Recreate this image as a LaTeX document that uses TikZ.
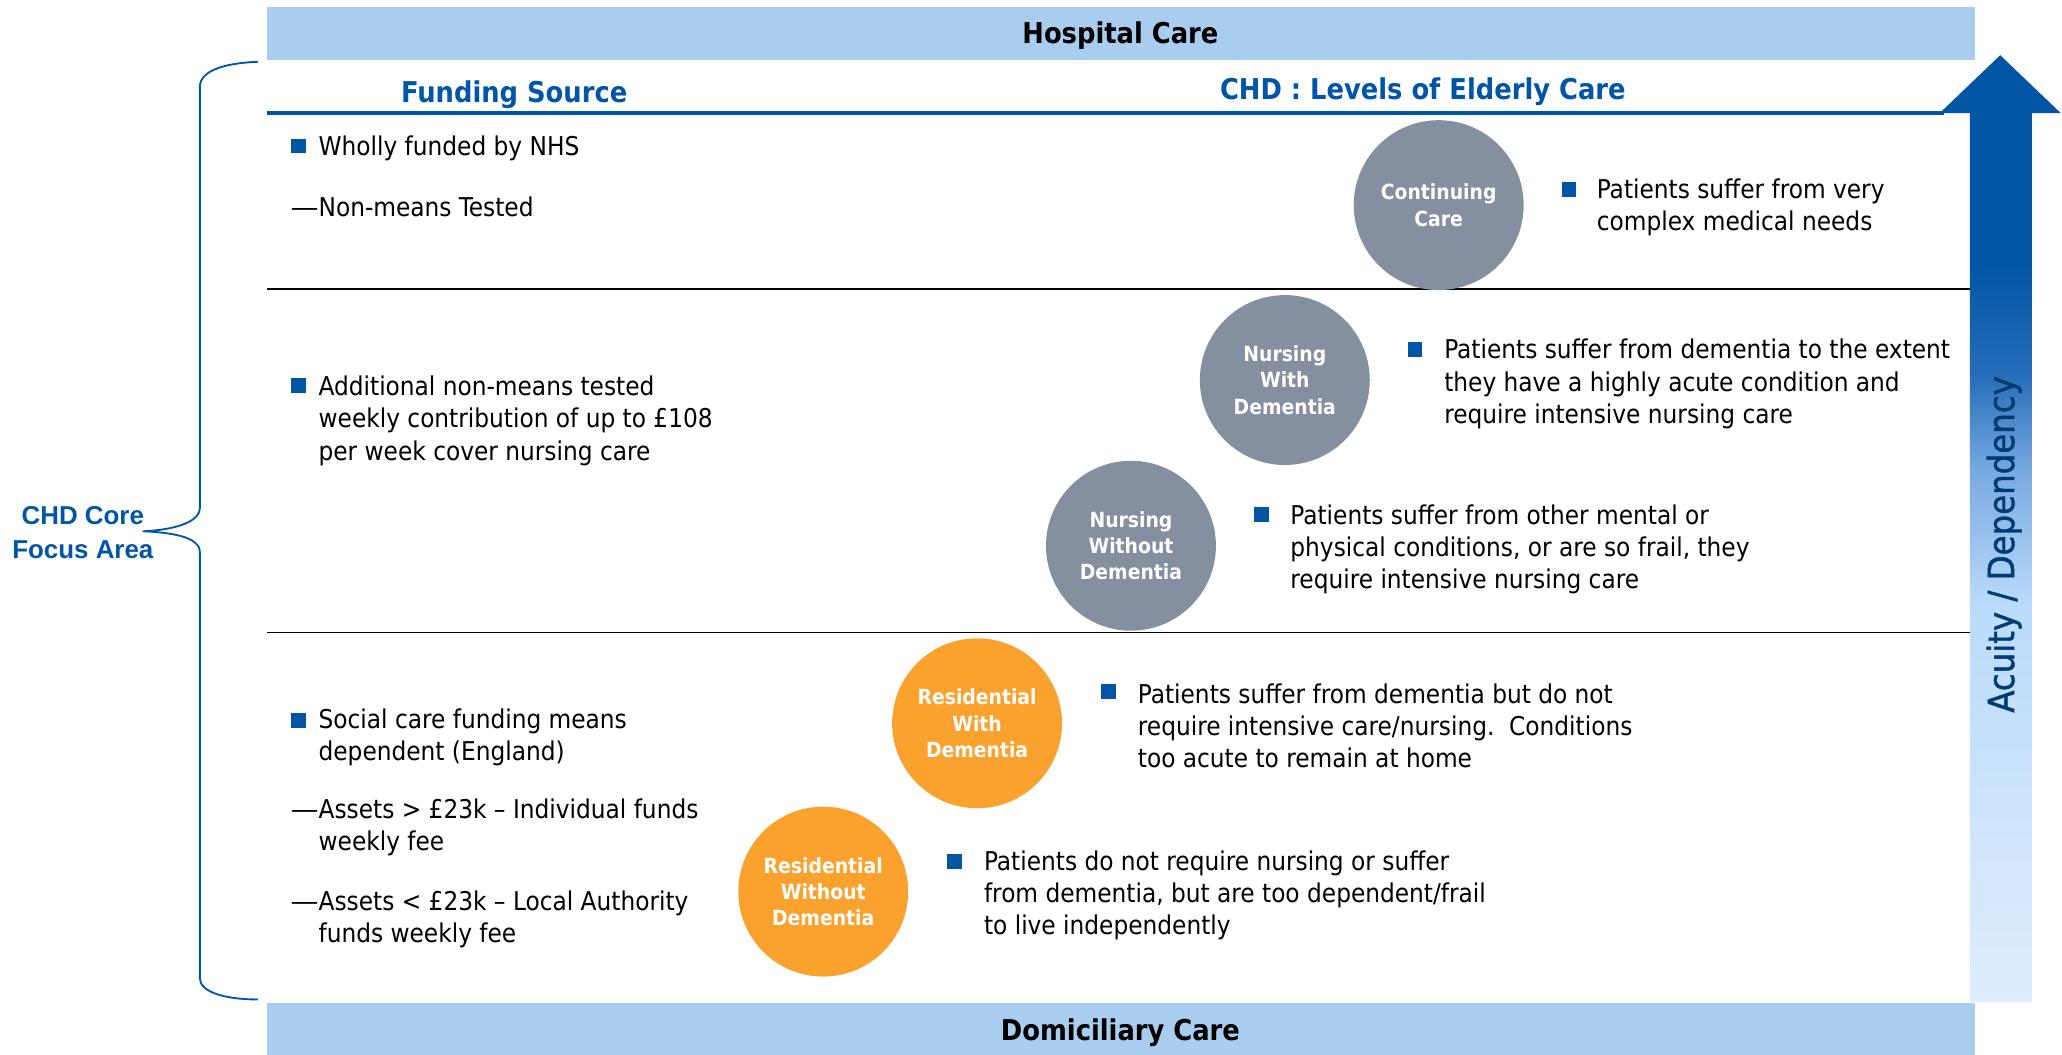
\documentclass[tikz,border=0pt]{standalone}
\usepackage{fontspec}
\setmainfont{DejaVu Sans Condensed}
\newfontfamily\arialfont{Liberation Sans}
\newfontfamily\acufont{DejaVu Sans Condensed}[FakeBold=1.2]

\definecolor{barblue}{RGB}{169,205,238}
\definecolor{chdblue}{RGB}{0,85,165}
\definecolor{careg}{RGB}{132,143,160}
\definecolor{careo}{RGB}{251,161,45}
\definecolor{arrlight}{RGB}{222,237,252}
\definecolor{arrmid}{RGB}{186,219,250}
\definecolor{arrsoft}{RGB}{120,170,225}
\definecolor{arrdeep}{RGB}{40,110,185}

% acuity arrow: dark at the head, fading out towards the bottom
\pgfdeclareverticalshading{acuity}{100bp}{color(0bp)=(arrlight); color(25bp)=(arrlight); color(46bp)=(arrmid); color(53bp)=(arrsoft); color(58bp)=(arrdeep); color(64bp)=(chdblue); color(100bp)=(chdblue)}

% long dash in front of a sub item
\newcommand{\subdash}{\llap{\scalebox{1.2}[1]{—}}}

\begin{document}
\begin{tikzpicture}[x=0.25mm,y=-0.25mm,line join=round,
	txt/.style={anchor=west,inner sep=0pt,align=left,font=\fontsize{14}{17.4}\selectfont},
	blt/.style={fill=chdblue,inner sep=0pt,minimum size=2.8mm},
	level/.style={circle,fill=#1,minimum size=32.3mm,inner sep=0pt,align=center,text=white,font=\fontsize{11.3}{14.2}\selectfont\bfseries},
	head/.style={inner sep=0pt,text=chdblue,font=\fontsize{15.5}{18}\selectfont\bfseries},
	bar/.style={inner sep=0pt,font=\fontsize{15.5}{18}\selectfont\bfseries}]
	\useasboundingbox (0,0) rectangle (1568,802);
	
	% top and bottom bands
	\fill[barblue] (203,5) rectangle (1502,46);
	\fill[barblue] (203,763) rectangle (1502,802);
	\node[bar] (hosp) at (852,27) {Hospital Care};
	\node[bar] (dom) at (852,785) {Domiciliary Care};
	
	% arrow on the right
	\shade[shading=acuity] (1498,762) -- (1498,86) -- (1475,86) -- (1521,42) -- (1567,86) -- (1545,86) -- (1545,762) -- cycle;
	\node[rotate=90,inner sep=0pt,text=chdblue!70!black,font=\acufont\fontsize{19.5}{19.5}\selectfont] (acu) at (1524,414) {Acuity / Dependency};
	
	% column heads and row rules
	\node[head] (fund) at (391,72) {Funding Source};
	\node[head] (lev) at (1082,70) {CHD : Levels of Elderly Care};
	\draw[chdblue,line width=0.8mm] (203,86) -- (1478,86);
	\draw[line width=0.35mm] (203,220) -- (1498,220);
	\draw[line width=0.35mm] (203,481) -- (1498,481);
	
	% brace for the core area
	\coordinate (tip) at (109,404);
	\draw[chdblue,line width=0.35mm] (196,47) .. controls (170,48) and (152,54) .. (152,66) -- (152,386)
	.. controls (152,398) and (130,403) .. (tip) .. controls (130,405) and (152,408) .. (152,420)
	-- (152,744) .. controls (152,754) and (170,760) .. (196,760);
	\node[inner sep=0pt,align=center,text=chdblue,font=\arialfont\fontsize{14}{18}\selectfont\bfseries] (core) at (63,405) {CHD Core\\Focus Area};
	
	% care levels
	\foreach \n/\x/\y/\c/\t in {cc/1094/156/careg/{Continuing\\Care},nwd/977/289/careg/{Nursing\\With\\Dementia},nod/860/415/careg/{Nursing\\Without\\Dementia},rwd/743/550/careo/{Residential\\With\\Dementia},rod/626/678/careo/{Residential\\Without\\Dementia}}
	\node[level=\c] (\n) at (\x,\y) {\t};
	
	% funding source
	\node[blt] (b1) at (227,111) {};
	\node[txt] (f1) at (242,113) {Wholly funded by NHS};
	\node[txt] (f2) at (242,157) {\subdash Non-means Tested};
	\node[blt] (b2) at (227,293) {};
	\node[txt] (f3) at (242,320) {Additional non-means tested\\weekly contribution of up to £108\\per week cover nursing care};
	\node[blt] (b3) at (227,548) {};
	\node[txt] (f4) at (242,561) {Social care funding means\\dependent (England)};
	\node[txt] (f5) at (242,629) {\subdash Assets > £23k – Individual funds\\weekly fee};
	\node[txt] (f6) at (242,699) {\subdash Assets < £23k – Local Authority\\funds weekly fee};
	
	% level descriptions
	\node[blt] (b4) at (1193,144) {};
	\node[txt] (d1) at (1214,158) {Patients suffer from very\\complex medical needs};
	\node[blt] (b5) at (1076,266) {};
	\node[txt] (d2) at (1098,292) {Patients suffer from dementia to the extent\\they have a highly acute condition and\\require intensive nursing care};
	\node[blt] (b6) at (959,391) {};
	\node[txt] (d3) at (981,418) {Patients suffer from other mental or\\physical conditions, or are so frail, they\\require intensive nursing care};
	\node[blt] (b7) at (843,526) {};
	\node[txt] (d4) at (865,552) {Patients suffer from dementia but do not\\require intensive care/nursing.\ \ Conditions\\too acute to remain at home};
	\node[blt] (b8) at (726,655) {};
	\node[txt] (d5) at (748,681) {Patients do not require nursing or suffer\\from dementia, but are too dependent/frail\\to live independently};
\end{tikzpicture}
\end{document}
